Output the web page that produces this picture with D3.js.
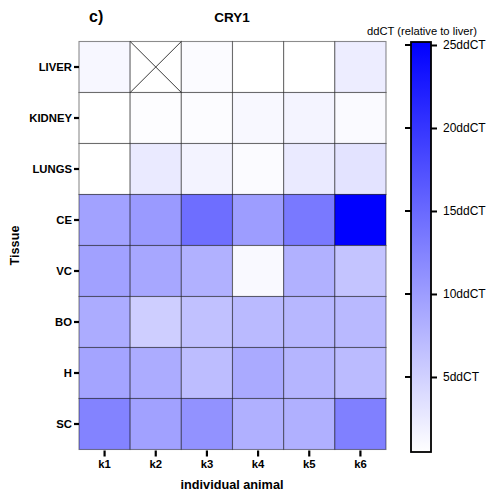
<!DOCTYPE html>
<html>
<head>
<meta charset="utf-8">
<script src="https://cdn.jsdelivr.net/npm/d3@7"></script>
<style>
  body { margin: 0; background: #fff; }
  text { font-family: Arial, "Liberation Sans", sans-serif; }
</style>
</head>
<body>
<div id="chart"></div>
<script>
// Data
let tissues = ['LIVER', 'KIDNEY', 'LUNGS', 'CE', 'VC', 'BO', 'H', 'SC'];
let animals = ['k1', 'k2', 'k3', 'k4', 'k5', 'k6'];
// ddCT per tissue (rows) for animals k1..k6, null = missing
let liver  = [1.3, null, 0.9, 0.5, 0.5, 2.2];
let kidney = [0.5, 0.7, 0.8, 1.2, 1.5, 1.0];
let lungs  = [0.5, 2.5, 1.6, 0.9, 2.5, 3.2];
let ce     = [9.5, 10.3, 14.5, 10.0, 13.5, 25.2];
let vc     = [9.6, 9.0, 8.0, 1.1, 8.0, 6.2];
let bo     = [8.5, 5.2, 6.5, 7.2, 7.5, 7.3];
let h      = [9.3, 8.5, 6.9, 8.7, 7.6, 7.1];
let sc     = [12.5, 9.6, 11.0, 8.1, 8.1, 12.8];
let colorTicks = [5, 10, 15, 20, 25];
let colorDomain = [0.48, 25.18];

let rows = [liver, kidney, lungs, ce, vc, bo, h, sc];
let cells = [];
rows.forEach((r, i) => r.forEach((v, j) => cells.push({tissue: tissues[i], animal: animals[j], value: v})));

// Set up SVG
let svgWidth = 493;
let svgHeight = 495;

let svg = d3.select('#chart').append('svg')
  .attr('width', svgWidth)
  .attr('height', svgHeight);

// Heatmap area
let gridLeft = 79, gridRight = 386, gridTop = 41.5, gridBottom = 449.5;

let x = d3.scaleBand().domain(animals).range([gridLeft, gridRight]);
let y = d3.scaleBand().domain(tissues).range([gridTop, gridBottom]);
let color = d3.scaleLinear().domain(colorDomain).range(['#ffffff', '#0000ff']).clamp(true);

// Cells
let cellG = svg.append('g');
cellG.selectAll('rect')
  .data(cells)
  .enter()
  .append('rect')
  .attr('x', d => x(d.animal))
  .attr('y', d => y(d.tissue))
  .attr('width', x.bandwidth())
  .attr('height', y.bandwidth())
  .attr('fill', d => d.value == null ? '#ffffff' : color(d.value))
  .attr('stroke', 'rgba(0,0,0,0.45)')
  .attr('stroke-width', 1.1);

// Cross for missing cells
cells.filter(d => d.value == null).forEach(d => {
  let x0 = x(d.animal), y0 = y(d.tissue), w = x.bandwidth(), hh = y.bandwidth();
  cellG.append('line').attr('x1', x0).attr('y1', y0).attr('x2', x0 + w).attr('y2', y0 + hh)
    .attr('stroke', '#222').attr('stroke-width', 0.9);
  cellG.append('line').attr('x1', x0 + w).attr('y1', y0).attr('x2', x0).attr('y2', y0 + hh)
    .attr('stroke', '#222').attr('stroke-width', 0.9);
});

// Y axis
let yAxis = svg.append('g')
  .attr('transform', `translate(${gridLeft}, 0)`)
  .call(d3.axisLeft(y).tickSize(5).tickPadding(2));
yAxis.select('.domain').remove();
yAxis.selectAll('line').attr('stroke', '#000').attr('stroke-width', 2.2);
yAxis.selectAll('text').attr('font-size', '11.3px').attr('font-weight', 'bold')
  .attr('fill', '#000').style('font-family', 'Arial, "Liberation Sans", sans-serif');

// X axis
let xAxis = svg.append('g')
  .attr('transform', `translate(0, ${gridBottom + 1})`)
  .call(d3.axisBottom(x).tickSize(6).tickPadding(3));
xAxis.select('.domain').remove();
xAxis.selectAll('line').attr('stroke', '#000').attr('stroke-width', 2.2);
xAxis.selectAll('text').attr('font-size', '11.3px').attr('font-weight', 'bold')
  .attr('fill', '#000').style('font-family', 'Arial, "Liberation Sans", sans-serif');

// Labels
svg.append('text')
  .attr('x', 232)
  .attr('y', 489)
  .attr('text-anchor', 'middle')
  .attr('font-size', '12.7px')
  .attr('font-weight', 'bold')
  .text('individual animal');

svg.append('text')
  .attr('transform', `translate(18.5, ${(gridTop + gridBottom) / 2}) rotate(-90)`)
  .attr('text-anchor', 'middle')
  .attr('font-size', '12.7px')
  .attr('font-weight', 'bold')
  .text('Tissue');

svg.append('text')
  .attr('x', 232)
  .attr('y', 22)
  .attr('text-anchor', 'middle')
  .attr('font-size', '13.5px')
  .attr('font-weight', 'bold')
  .text('CRY1');

svg.append('text')
  .attr('x', 89)
  .attr('y', 22)
  .attr('font-size', '16px')
  .attr('font-weight', 'bold')
  .text('c)');

// Colour bar
let barX = 411, barW = 20, barTop = 42, barBottom = 452;
let cScale = d3.scaleLinear().domain(colorDomain).range([barBottom, barTop]);

let defs = svg.append('defs');
let grad = defs.append('linearGradient')
  .attr('id', 'cgrad')
  .attr('x1', 0).attr('y1', 1).attr('x2', 0).attr('y2', 0);
grad.append('stop').attr('offset', '0%').attr('stop-color', color(colorDomain[0]));
grad.append('stop').attr('offset', '100%').attr('stop-color', color(colorDomain[1]));

svg.append('rect')
  .attr('x', barX)
  .attr('y', barTop)
  .attr('width', barW)
  .attr('height', barBottom - barTop)
  .attr('fill', 'url(#cgrad)')
  .attr('stroke', '#000')
  .attr('stroke-width', 1.8);

let cAxis = svg.append('g')
  .attr('transform', `translate(${barX + barW}, 0)`)
  .call(d3.axisRight(cScale).tickValues(colorTicks).tickSize(6).tickPadding(6)
    .tickFormat(d => d + 'ddCT'));
cAxis.select('.domain').remove();
cAxis.selectAll('line').attr('stroke', '#000').attr('stroke-width', 2);
cAxis.selectAll('text').attr('font-size', '12px').attr('fill', '#000')
  .style('font-family', 'Arial, "Liberation Sans", sans-serif');

// left-side ticks on colour bar
svg.append('g').selectAll('line')
  .data(colorTicks)
  .enter()
  .append('line')
  .attr('x1', barX - 6)
  .attr('x2', barX)
  .attr('y1', d => cScale(d))
  .attr('y2', d => cScale(d))
  .attr('stroke', '#000')
  .attr('stroke-width', 2);

svg.append('text')
  .attr('x', 422)
  .attr('y', 35)
  .attr('text-anchor', 'middle')
  .attr('font-size', '11.2px')
  .text('ddCT (relative to liver)');
</script>
</body>
</html>
